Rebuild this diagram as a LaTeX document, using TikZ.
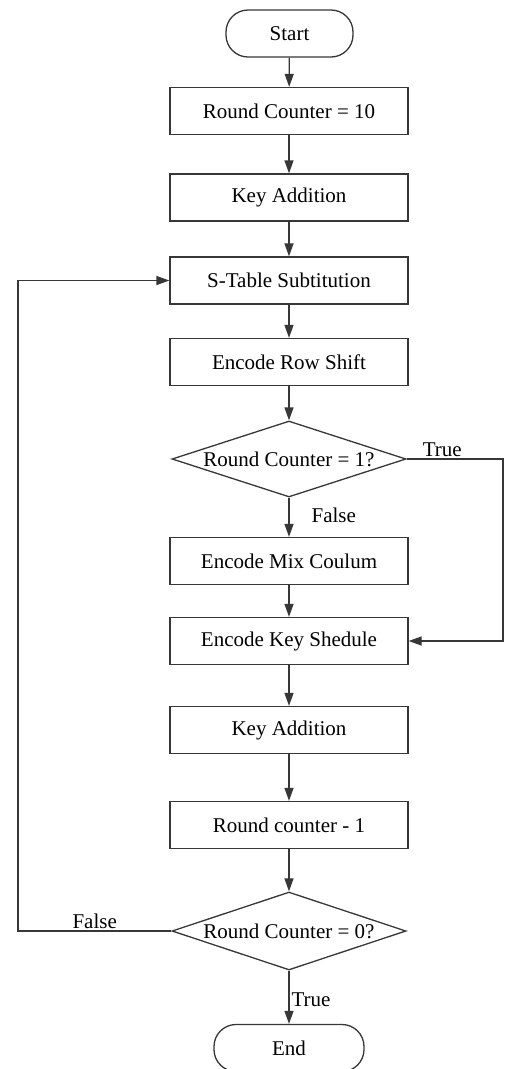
\documentclass[tikz,border=0pt]{standalone}
\usepackage{fontspec}
\setmainfont{Liberation Serif}
\usetikzlibrary{arrows.meta,positioning,shapes.geometric}
\definecolor{LineGray}{RGB}{55,55,55}

\begin{document}
\begin{tikzpicture}[x=1pt,y=-1pt,
    font=\fontsize{21}{25}\selectfont,
    procbox/.style={draw=LineGray, line width=1.3pt, minimum width=238pt, minimum height=47pt, inner sep=0pt},
    termbox/.style={draw=LineGray, line width=1.3pt, rounded corners=22pt, minimum height=47pt, inner sep=0pt},
    decbox/.style={draw=LineGray, line width=1.3pt, diamond, aspect=3.1, minimum width=234pt, minimum height=76pt, inner sep=0pt},
    arr/.style={-{Triangle[length=13pt,width=9pt]}, draw=LineGray, line width=1.3pt},
    lbl/.style={inner sep=2pt}]
        \fill[white] (0,0) rectangle (511,1069);
        \useasboundingbox (0,0) rectangle (511,1069);
        % flow boxes
        \node[termbox, minimum width=127pt] (start) at (289.5,33.5) {Start};
        \node[procbox] (rcInit) at (289,111) {Round Counter = 10};
        \node[procbox] (keyAddA) at (289,197.5) {Key Addition};
        \node[procbox] (sTable) at (289,280.5) {S-Table Subtitution};
        \node[procbox] (rowShift) at (289,362) {Encode Row Shift};
        \node[decbox] (chkOne) at (289,459) {Round Counter = 1?};
        \node[procbox] (mixCol) at (289,561) {Encode Mix Coulum};
        \node[procbox] (keySched) at (289,641) {Encode Key Shedule};
        \node[procbox] (keyAddB) at (289,730) {Key Addition};
        \node[procbox] (rcDec) at (289,825) {Round counter - 1};
        \node[decbox, minimum height=78pt] (chkZero) at (289,931) {Round Counter = 0?};
        \node[termbox, minimum width=150pt] (stop) at (289,1048) {End};
        \coordinate (trueRight) at (503,459);
        \coordinate (falseLeft) at (18,931);
        % connectors
        \draw[arr] (start) -- (rcInit);
        \draw[arr] (rcInit) -- (keyAddA);
        \draw[arr] (keyAddA) -- (sTable);
        \draw[arr] (sTable) -- (rowShift);
        \draw[arr] (rowShift) -- (chkOne);
        \draw[arr] (chkOne) -- node[lbl, right=20pt, pos=0.45] {False} (mixCol);
        \draw[arr] (mixCol) -- (keySched);
        \draw[arr] (chkOne.east) -- node[lbl, above, pos=0.37] {True} (trueRight) |- (keySched.east);
        \draw[arr] (keySched) -- (keyAddB);
        \draw[arr] (keyAddB) -- (rcDec);
        \draw[arr] (rcDec) -- (chkZero);
        \draw[arr] (chkZero.west) -- node[lbl, above, pos=0.5] {False} (falseLeft) |- (sTable.west);
        \draw[arr] (chkZero) -- node[lbl, right, pos=0.55] {True} (stop);
      \end{tikzpicture}
\end{document}
